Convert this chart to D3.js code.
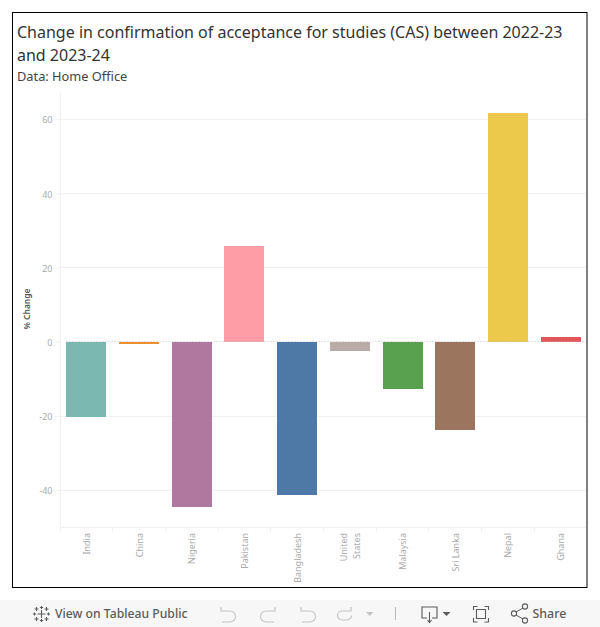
<!DOCTYPE html>
<html><head><meta charset="utf-8">
<script src="https://cdn.jsdelivr.net/npm/d3@7"></script>
<style>
html,body{margin:0;padding:0;background:#fff;}
svg{display:block;}
text{font-family:"Noto Sans","Open Sans",sans-serif;}
</style></head><body><div id="chart"></div>
<script>
const categories = ["India","China","Nigeria","Pakistan","Bangladesh","United States","Malaysia","Sri Lanka","Nepal","Ghana"];
const values = [-20.2,-0.6,-44.5,25.9,-41.2,-2.4,-12.6,-23.7,61.7,1.4];
const colors = ["#7ab8b1","#ef8e2e","#b0779f","#ff9da7","#4e79a7","#b9aca8","#59a14f","#9c755f","#ecc94b","#e15759"];
const yTicks = [-40,-20,0,20,40,60];
const titleLines = ["Change in confirmation of acceptance for studies (CAS) between 2022-23","and 2023-24"];
const subtitle = "Data: Home Office";

const W = 600, H = 627;
const svg = d3.select("#chart").append("svg").attr("width",W).attr("height",H);

svg.append("rect").attr("x",12.5).attr("y",12.5).attr("width",574.5).attr("height",575)
  .attr("fill","#fff").attr("stroke","#000").attr("stroke-width",1);

svg.selectAll(".t").data(titleLines).join("text").attr("class","t")
  .attr("x",17).attr("y",(d,i)=>38+i*23).attr("font-size",16).attr("fill","#333").text(d=>d);
svg.append("text").attr("x",17).attr("y",81).attr("font-size",12.8).attr("fill","#444").text(subtitle);

const plotL = 60.5, plotR = 587, plotT = 93, plotB = 527.5;
const y = d3.scaleLinear().domain([-40,60]).range([490.3,119.5]);
const x = d3.scaleBand().domain(categories).range([59.6,587.4]).paddingInner(0.242).paddingOuter(0.121);
const xCell = d3.scaleBand().domain(categories).range([60,587]);

const g = svg.append("g");
// gridlines
g.selectAll(".grid").data(yTicks.filter(d=>d!==0)).join("line")
  .attr("x1",plotL).attr("x2",plotR-1).attr("y1",d=>Math.floor(y(d))+0.5).attr("y2",d=>Math.floor(y(d))+0.5)
  .attr("stroke","#f0f0f0");
g.append("line").attr("x1",plotL).attr("x2",plotL).attr("y1",plotT).attr("y2",plotB).attr("stroke","#f0f0f0");
g.append("line").attr("x1",plotL).attr("x2",plotR-1).attr("y1",plotB).attr("y2",plotB).attr("stroke","#f0f0f0");

// y axis
const yAxis = g.append("g").attr("transform",`translate(${plotL},0)`)
  .call(d3.axisLeft(y).tickValues(yTicks).tickSize(6).tickPadding(2).tickFormat(d3.format("d")));
yAxis.select(".domain").remove();
yAxis.selectAll("line").attr("stroke","#f0f0f0").attr("transform","translate(0,-0.3)");
yAxis.selectAll("text").attr("font-size",9).attr("fill","#aaa").attr("transform","translate(0,0.5)")
  .style("font-family",'"Noto Sans","Open Sans",sans-serif').text(d=>d<0?"-"+Math.abs(d):d);

// x axis ticks
g.selectAll(".xt").data(categories).join("line")
  .attr("x1",d=>Math.floor(xCell(d))+0.5).attr("x2",d=>Math.floor(xCell(d))+0.5)
  .attr("y1",plotB).attr("y2",plotB+4).attr("stroke","#f0f0f0");

// bars
g.selectAll(".bar").data(categories).join("rect").attr("class","bar")
  .attr("x",d=>x(d)).attr("width",x.bandwidth())
  .attr("y",(d,i)=>y(Math.max(0,values[i]))).attr("height",(d,i)=>Math.abs(y(values[i])-y(0)))
  .attr("fill",(d,i)=>colors[i]).attr("shape-rendering","crispEdges");

// zero line
g.append("line").attr("x1",plotL+6).attr("x2",plotR-1).attr("y1",Math.floor(y(0))+0.5).attr("y2",Math.floor(y(0))+0.5)
  .attr("stroke","#bbb").attr("stroke-dasharray","1 2").attr("stroke-opacity",0.9);

// x labels
const labels = g.selectAll(".xl").data(categories).join("text")
  .attr("transform",d=>`translate(${xCell(d)+xCell.bandwidth()/2+(d==="United States"?-2.5:3.5)},533) rotate(-90)`)
  .attr("text-anchor","end").attr("font-size",9).attr("fill","#aaa");
labels.each(function(d){
  const parts = d==="United States" ? ["United","States"] : [d];
  d3.select(this).selectAll("tspan").data(parts).join("tspan")
    .attr("x",0).attr("dy",(p,i)=>i?13:0).text(p=>p);
});

svg.append("text").attr("transform","translate(30,309) rotate(-90)").attr("text-anchor","middle")
  .attr("font-size",8.5).attr("font-weight",600).attr("fill","#555").text("% Change");

// Toolbar
const tb = svg.append("g");
tb.append("rect").attr("x",0).attr("y",600).attr("width",600).attr("height",27).attr("fill","#f7f7f7");
const ic = "#5c5c5c", dim = "#c4c4c4";
// tableau logo
const logo = tb.append("g").attr("transform","translate(41.5,614)").attr("stroke",ic).attr("fill","none").attr("stroke-width",1.1);
[[0,0,4],[-5,-5,2],[5,-5,2],[-5,5,2],[5,5,2],[0,-6.5,1.6],[0,6.5,1.6],[-7,0,1.6],[7,0,1.6]].forEach(([a,b,r])=>{
  logo.append("path").attr("d",`M${a-r} ${b}H${a+r}M${a} ${b-r}V${b+r}`);
});
tb.append("text").attr("x",55).attr("y",618).attr("font-size",12.2).attr("font-weight",500).attr("fill",ic).text("View on Tableau Public");
tb.append("text").attr("x",532.5).attr("y",618).attr("font-size",12.4).attr("font-weight",500).attr("fill",ic).text("Share");
const icon = (d,c=dim,w=1.2)=>tb.append("path").attr("d",d).attr("fill","none").attr("stroke",c).attr("stroke-width",w);
icon("M221 607v4h4M221 611c3 0 7 0 9 0a5.5 5.5 0 0 1 0 11h-8");
icon("M275 607v4h-4M275 611c-3 0 -7 0 -9 0a5.5 5.5 0 0 0 0 11h8");
icon("M301 607v4h4M301 611c3 0 7 0 9 0a5.5 5.5 0 0 1 0 11h-8");
icon("M351 607v4h-4M351 611c-3 0 -6 0 -9 0a4.5 4.5 0 0 0 0 9h5a4.5 4.5 0 0 0 4.5 -4.5");
tb.append("path").attr("d","M366 612h7.5l-3.75 4z").attr("fill",dim);
icon("M395.5 607v13","#bbb",1);
icon("M427 618h-5v-11h15v11h-5M429.5 612v10M427.5 620l2 2.5 2-2.5",ic,1.1);
tb.append("path").attr("d","M442.5 612h8l-4 4z").attr("fill",ic);
icon("M473.5 610v-3.5h4M484.5 606.5h4v3.5M488.5 618v4h-4M477.5 622h-4v-4M476.5 609.5h9v9h-9z",ic,1.1);
icon("M516 612l7-4M516 615l7 4",ic,1);
[[514,613.5],[525,606.5],[525,620.5]].forEach(([a,b])=>tb.append("circle").attr("cx",a).attr("cy",b).attr("r",2.6).attr("fill","none").attr("stroke",ic).attr("stroke-width",1.1));
</script></body></html>
